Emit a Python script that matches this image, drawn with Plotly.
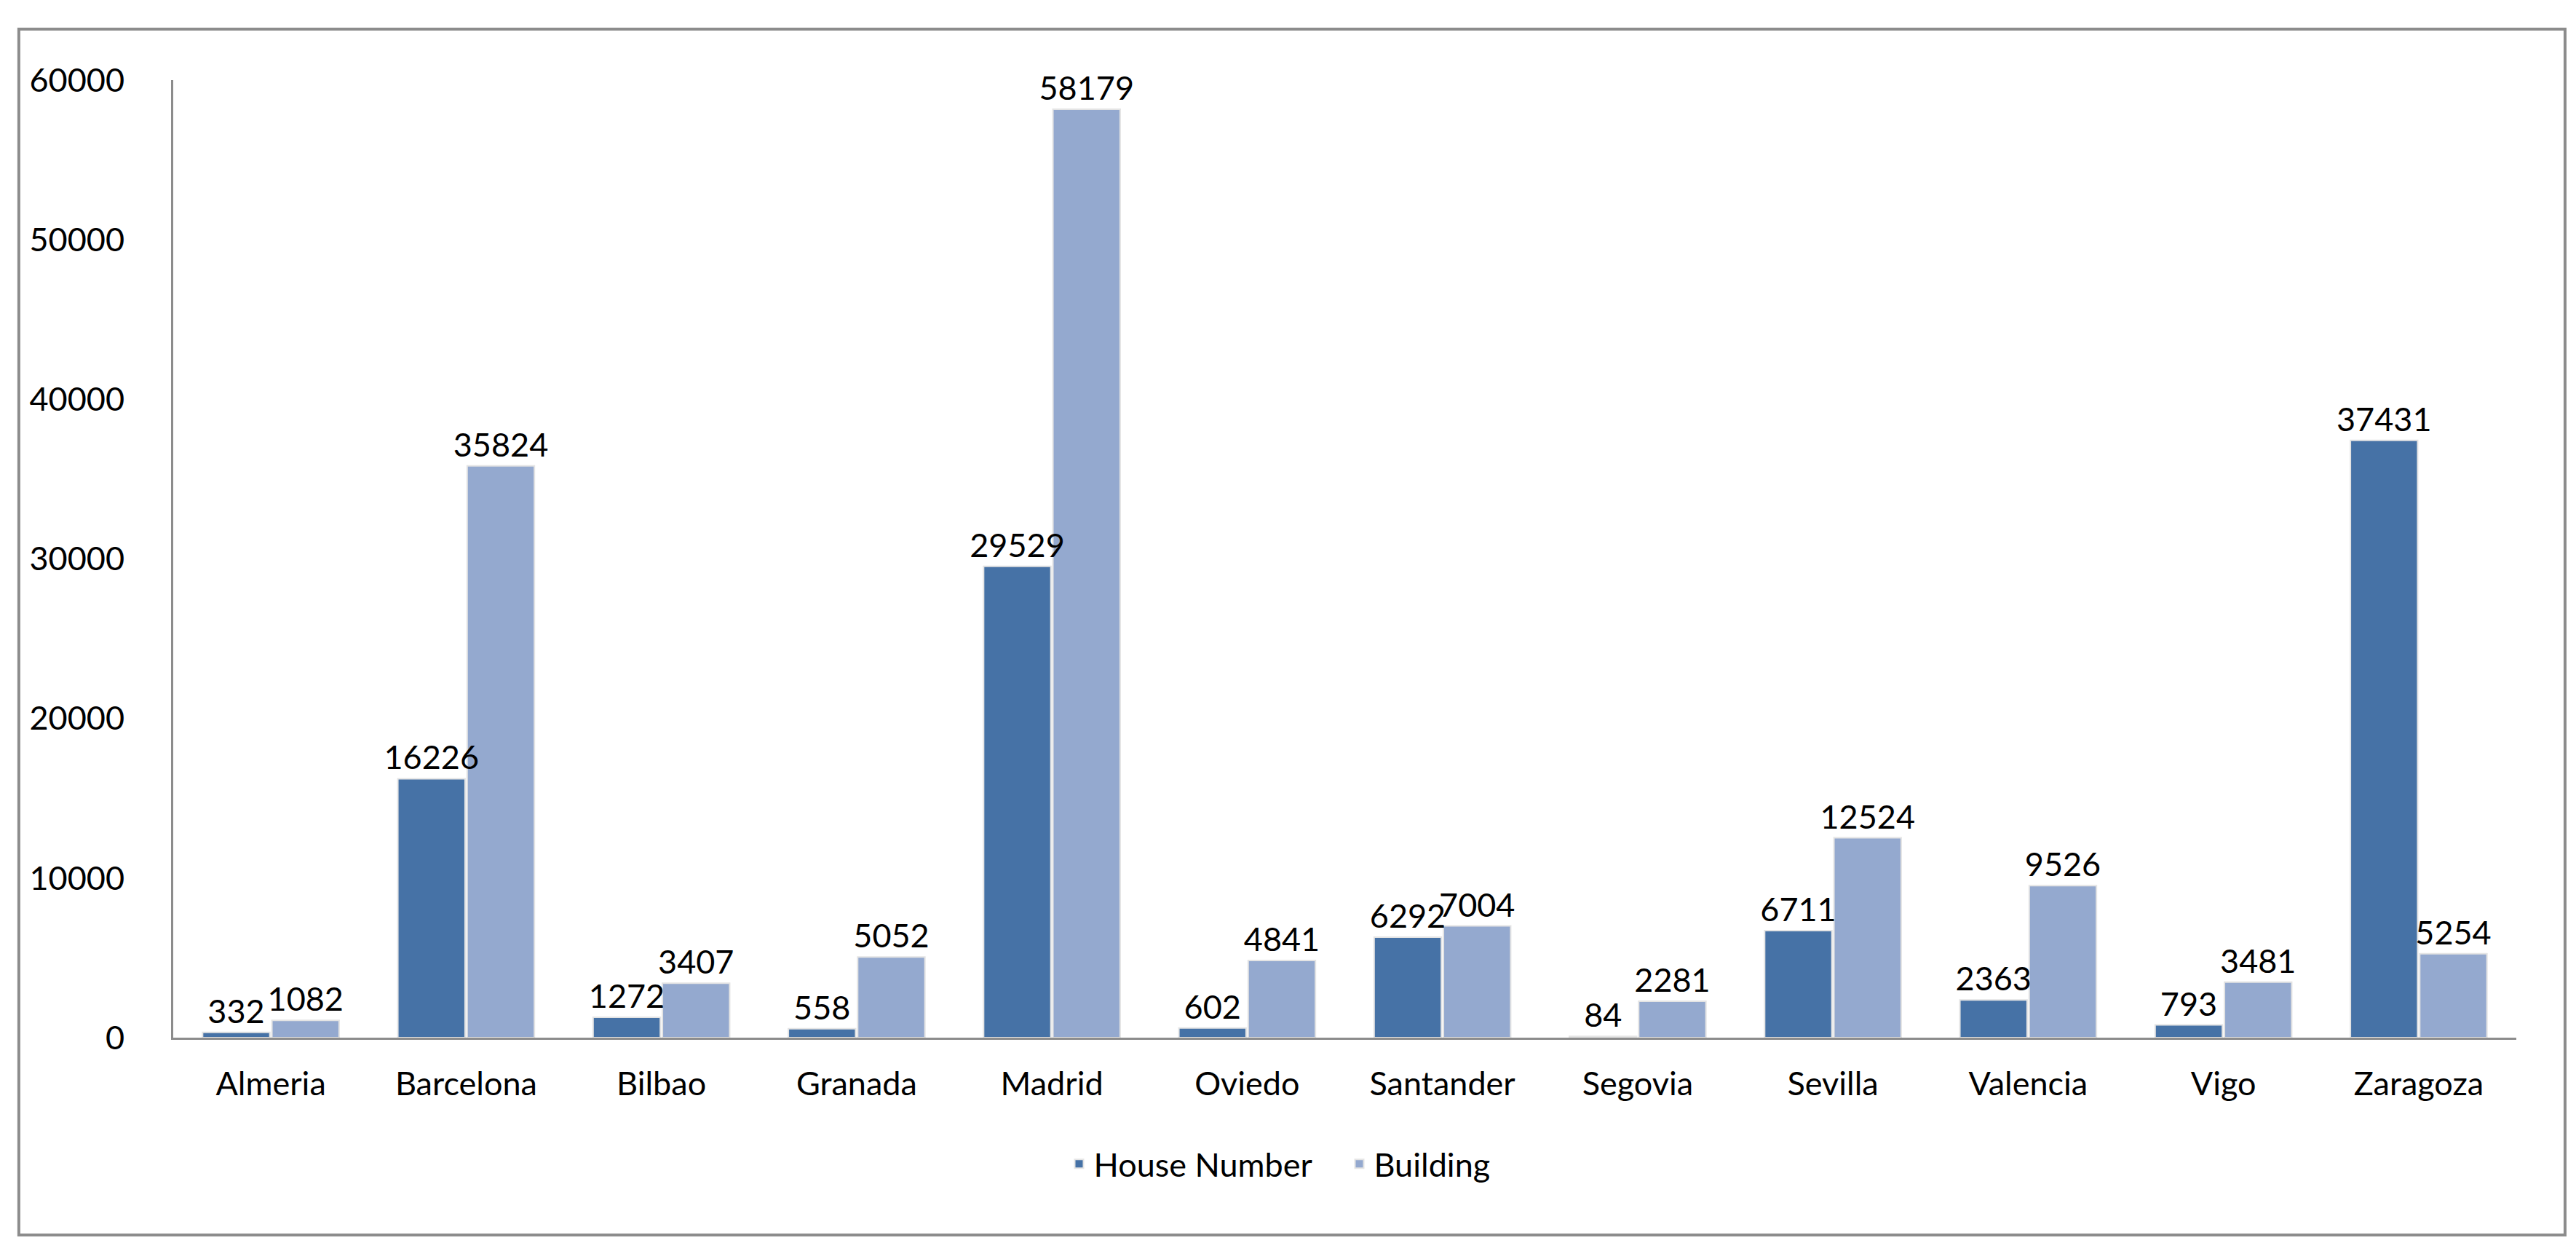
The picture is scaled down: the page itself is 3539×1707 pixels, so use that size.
import plotly.graph_objects as go

cities = ["Almeria", "Barcelona", "Bilbao", "Granada", "Madrid", "Oviedo",
          "Santander", "Segovia", "Sevilla", "Valencia", "Vigo", "Zaragoza"]
house_number = [332, 16226, 1272, 558, 29529, 602, 6292, 84, 6711, 2363, 793, 37431]
building = [1082, 35824, 3407, 5052, 58179, 4841, 7004, 2281, 12524, 9526, 3481, 5254]
y_ticks = [0, 10000, 20000, 30000, 40000, 50000, 60000]

FONT = "Lato, 'Open Sans', sans-serif"
FS = 45
DARK = "#4672A6"
LIGHT = "#94A9CF"

fig = go.Figure()
# bars
fig.add_trace(go.Bar(
    x=cities, y=house_number, name="House Number", offsetgroup="h",
    marker=dict(color=DARK, line=dict(color="#E4E4E4", width=2)),
))
fig.add_trace(go.Bar(
    x=cities, y=building, name="Building", offsetgroup="b",
    marker=dict(color=LIGHT, line=dict(color="#E4E4E4", width=2)),
))
# value labels drawn on top of all bars
for vals, grp in ((house_number, "h"), (building, "b")):
    fig.add_trace(go.Bar(
        x=cities, y=vals, offsetgroup=grp, showlegend=False, hoverinfo="skip",
        marker=dict(color="rgba(0,0,0,0)", line=dict(color="rgba(0,0,0,0)", width=24)),
        text=[str(v) for v in vals], textposition="outside", constraintext="none",
        textfont=dict(size=FS, color="black", family=FONT), cliponaxis=False,
    ))

fig.update_layout(
    width=3539, height=1707,
    margin=dict(l=230, r=90, t=102, b=290),
    paper_bgcolor="white", plot_bgcolor="white",
    barmode="group", bargap=0.29, bargroupgap=0.03,
    font=dict(family=FONT, size=FS, color="black"),
    legend=dict(orientation="h", x=0.50, y=-0.132, xanchor="center", yanchor="middle",
                font=dict(size=FS, family=FONT), entrywidth=340, entrywidthmode="pixels",
                itemwidth=30, traceorder="normal"),
    shapes=[dict(type="rect", xref="paper", yref="paper",
                 x0=-0.0659, x1=1.0208, y0=-0.2061, y1=1.0532,
                 line=dict(color="#8C8C8C", width=4), layer="below")],
)
fig.update_xaxes(showline=True, linecolor="#8C8C8C", linewidth=3, showgrid=False,
                 ticks="outside", ticklen=0, ticklabelstandoff=22,
                 tickfont=dict(size=FS, family=FONT))
fig.update_yaxes(range=[0, 60000], tickvals=y_ticks, tickformat="d", showline=True,
                 linecolor="#8C8C8C", linewidth=3, showgrid=False, zeroline=False,
                 ticks="outside", ticklen=0, ticklabelstandoff=55,
                 tickfont=dict(size=FS, family=FONT))

fig.write_html("out.html")
